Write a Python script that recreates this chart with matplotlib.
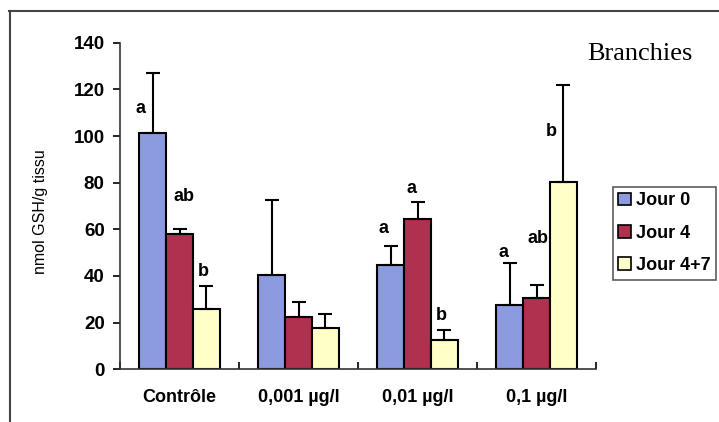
import numpy as np
import matplotlib
matplotlib.use("Agg")
import matplotlib.pyplot as plt
from matplotlib.lines import Line2D
from matplotlib.patches import Patch

# ----------------------------------------
# Data
# ----------------------------------------
categories = ["Contrôle", "0,001 µg/l", "0,01 µg/l", "0,1 µg/l"]
series_names = ["Jour 0", "Jour 4", "Jour 4+7"]
jour0 = [101.4, 40.5, 44.5, 27.5]
jour4 = [58.0, 22.5, 64.3, 30.5]
jour47 = [26.0, 17.6, 12.5, 80.3]
err_jour0 = [25.7, 32.1, 8.2, 18.0]
err_jour4 = [2.3, 6.2, 7.5, 5.7]
err_jour47 = [9.7, 6.1, 4.3, 41.7]

# significance letters: (group, series, text, y)
letters = [
    (0, 0, "a", 112), (0, 1, "ab", 74), (0, 2, "b", 42),
    (2, 0, "a", 60.5), (2, 1, "a", 77.6), (2, 2, "b", 23),
    (3, 0, "a", 50), (3, 1, "ab", 56), (3, 2, "b", 102),
]
# horizontal nudge of each letter from its bar centre (pixels)
letter_nudge = [-12, 5, -3, -7, -6, -3, -6, 1, -12]

colors = ["#8C9AE0", "#B03050", "#FFFFC8"]

plt.rcParams["font.family"] = ["Liberation Sans", "DejaVu Sans"]

fig = plt.figure(figsize=(7.19, 4.22), dpi=100)
ax = fig.add_axes([120 / 719, 1 - 369.3 / 422, 476 / 719, 326.6 / 422])

x = np.arange(len(categories))
width = 0.225
px = 1 / 119.0  # one pixel in x data units
values = [jour0, jour4, jour47]
errors = [err_jour0, err_jour4, err_jour47]
for i, (vals, errs) in enumerate(zip(values, errors)):
    pos = x + (i - 1) * width
    ax.bar(pos, vals, width, color=colors[i], edgecolor="black", linewidth=1.5, zorder=2)
    ax.errorbar(pos, vals, yerr=[np.zeros(len(errs)), errs], fmt="none",
                ecolor="black", elinewidth=1.5, capsize=5, capthick=1.5, zorder=3)

for (g, s, txt, yv), nudge in zip(letters, letter_nudge):
    ax.text(x[g] + (s - 1) * width + nudge * px, yv, txt, ha="center", va="center",
            fontsize=13, fontweight="bold")

ax.set_xlim(-0.5, 3.5)
ax.set_ylim(0, 140)
ax.set_yticks(range(0, 141, 20))
ax.set_xticks(np.arange(-0.5, 4, 1))
ax.set_xticklabels([])
ax.set_xticks(x, minor=True)
ax.set_xticklabels(categories, minor=True, fontsize=13, fontweight="bold")
ax.tick_params(axis="x", which="minor", length=0, pad=14)
ax.tick_params(axis="x", which="major", length=5, width=1.2, direction="in")
ax.tick_params(axis="y", length=5, width=1.2, labelsize=13.5, pad=6)
for lbl in ax.get_yticklabels():
    lbl.set_fontweight("bold")
for side in ["top", "right"]:
    ax.spines[side].set_visible(False)
for side in ["left", "bottom"]:
    ax.spines[side].set_linewidth(1.2)
    ax.spines[side].set_color("#333333")

fig.text(40 / 719, 1 - 212 / 422, "nmol GSH/g tissu", rotation=90, ha="center", va="center",
         fontsize=11.5)
fig.text(640 / 719, 1 - 54 / 422, "Branchies", ha="center", va="center",
         fontsize=19, family="Liberation Serif")

handles = [Patch(facecolor=c, edgecolor="black", linewidth=1.2) for c in colors]
leg = fig.legend(handles, series_names, loc="upper left",
                 bbox_to_anchor=(613 / 719, 1 - 187 / 422),
                 prop={"weight": "bold", "size": 13}, frameon=True, fancybox=False,
                 handlelength=0.7, handleheight=0.7, handletextpad=0.25,
                 labelspacing=0.85, borderpad=0.3, borderaxespad=0)
leg.get_frame().set_edgecolor("#333333")
leg.get_frame().set_linewidth(1.2)

# outer frame of the chart area
fig.add_artist(Line2D([9 / 719, 1], [1 - 11 / 422, 1 - 11 / 422], color="#444444", lw=1.5))
fig.add_artist(Line2D([10 / 719, 10 / 719], [0, 1 - 11 / 422], color="#444444", lw=1.5))

fig.savefig("out.png", dpi=100)
